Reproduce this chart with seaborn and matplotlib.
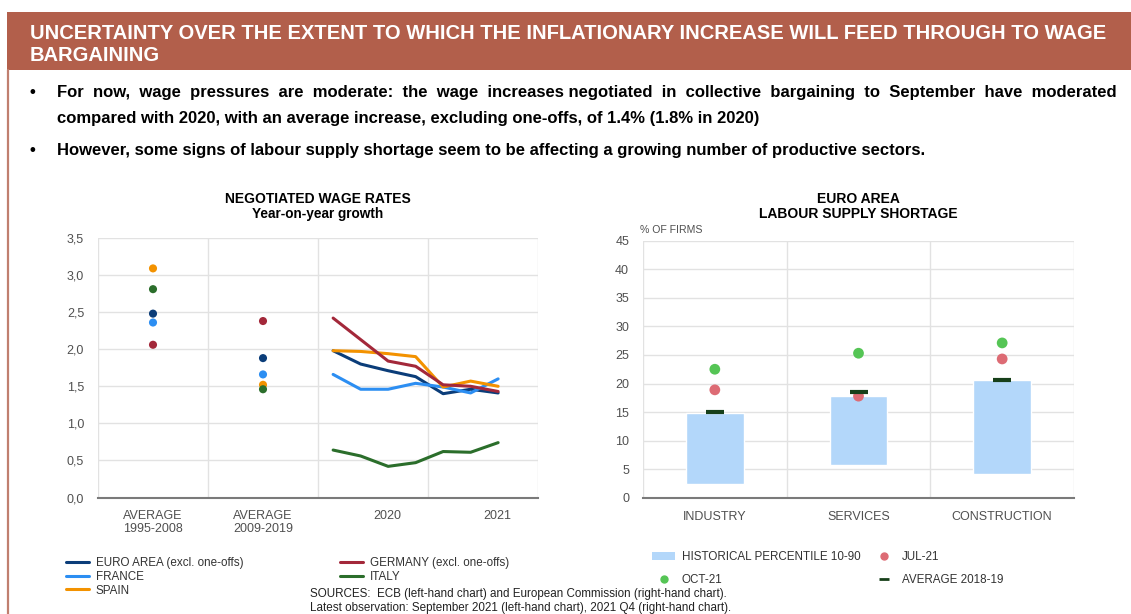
import numpy as np
import pandas as pd
import matplotlib
matplotlib.use("Agg")
import matplotlib.pyplot as plt
import seaborn as sns
from matplotlib.lines import Line2D
from matplotlib.patches import Patch, Rectangle

# ---------------- data ----------------
series = ["EURO AREA (excl. one-offs)", "FRANCE", "SPAIN",
          "GERMANY (excl. one-offs)", "ITALY"]
series_colors = ["#0B3D79", "#2C8EF2", "#F39200", "#A3283A", "#2B6E2B"]

avg_labels = ["AVERAGE\n1995-2008", "AVERAGE\n2009-2019"]
avg_1995_2008 = [2.48, 2.36, 3.09, 2.06, 2.81]   # EA, FR, ES, DE, IT
avg_2009_2019 = [1.88, 1.66, 1.52, 2.38, 1.46]

years = [2020, 2020, 2020, 2020, 2021, 2021, 2021]
quarters = [1, 2, 3, 4, 1, 2, 3]
euro_area = [1.98, 1.80, 1.71, 1.63, 1.40, 1.46, 1.41]
france = [1.66, 1.46, 1.46, 1.54, 1.49, 1.41, 1.60]
spain = [1.98, 1.97, 1.94, 1.90, 1.49, 1.57, 1.50]
germany = [2.42, 2.13, 1.84, 1.77, 1.52, 1.50, 1.43]
italy = [0.64, 0.56, 0.42, 0.47, 0.62, 0.61, 0.74]

year_labels = ["2020", "2021"]
y_ticks_left = [0.0, 0.5, 1.0, 1.5, 2.0, 2.5, 3.0, 3.5]

sectors = ["INDUSTRY", "SERVICES", "CONSTRUCTION"]
pct_10 = [2.5, 5.7, 4.2]
pct_90 = [14.8, 17.9, 20.7]
avg_2018_19 = [15.0, 18.6, 20.6]
jul_21 = [18.9, 17.8, 24.3]
oct_21 = [22.5, 25.3, 27.1]
y_ticks_right = [0, 5, 10, 15, 20, 25, 30, 35, 40, 45]

# ---------------- setup ----------------
W, H = 1131, 614
sns.set_theme(style="white")
plt.rcParams["font.family"] = ["Liberation Sans", "DejaVu Sans"]

fig = plt.figure(figsize=(W / 100, H / 100), dpi=100)
fig.patch.set_facecolor("white")


def fx(px):
    return px / W


def fy(py):
    return 1 - py / H


# banner
fig.add_artist(Rectangle((fx(7), fy(70)), fx(W) - fx(7), fy(12) - fy(70),
                         transform=fig.transFigure, facecolor="#B25F4B",
                         edgecolor="none", zorder=0))
fig.add_artist(Line2D([fx(7.5), fx(7.5)], [fy(70), fy(614)], transform=fig.transFigure,
                      color="#C07F6F", lw=1.6))
tkw = dict(color="white", fontsize=14.5, fontweight="bold", va="baseline", ha="left")
fig.text(fx(30), fy(39), "UNCERTAINTY OVER THE EXTENT TO WHICH THE INFLATIONARY INCREASE WILL FEED THROUGH TO WAGE", **tkw)
fig.text(fx(30), fy(61), "BARGAINING", **tkw)

# bullets
bkw = dict(color="black", fontsize=12.0, fontweight="bold", va="baseline", ha="left")
fig.text(fx(29), fy(97), "•", **bkw)
fig.text(fx(29), fy(155), "•", **bkw)

# justified first line: distribute extra spaces within a single string
line1 = "For now, wage pressures are moderate: the wage increases negotiated in collective bargaining to September have moderated"
words = line1.split(" ")
probe = fig.text(0, 0, "", **bkw)
rend = fig.canvas.get_renderer()


def text_w(s):
    probe.set_text(s)
    return probe.get_window_extent(rend).width


base_w = text_w(line1)
sp_w = text_w("a a") - text_w("aa")
probe.remove()
n_gaps = len(words) - 1
extra = (1117 - 57 - base_w) / sp_w  # extra spaces in total
s = words[0]
prev = 0
for i in range(1, len(words)):
    cum = int(round(extra * i / n_gaps))
    s += " " * (1 + cum - prev) + words[i]
    prev = cum
fig.text(fx(57), fy(97), s, **bkw)
fig.text(fx(57), fy(123), "compared with 2020, with an average increase, excluding one-offs, of 1.4% (1.8% in 2020)", **bkw)
fig.text(fx(57), fy(155), "However, some signs of labour supply shortage seem to be affecting a growing number of productive sectors.", **bkw)

tick_color = "#505050"
grid_color = "#E2E2E2"

# ---------------- left chart ----------------
ax1 = fig.add_axes([fx(98), fy(497.5), fx(538) - fx(98), fy(238) - fy(497.5)])

line_rows = []
for name, vals in zip(series, [euro_area, france, spain, germany, italy]):
    for yr, q, v in zip(years, quarters, vals):
        line_rows.append(dict(series=name, x=(yr - 2018) + (q - 0.45) / 4, value=v))
df_lines = pd.DataFrame(line_rows)

dot_rows = []
for i, vals in enumerate([avg_1995_2008, avg_2009_2019]):
    for name, v in zip(series, vals):
        dot_rows.append(dict(series=name, x=i + 0.5, value=v))
df_dots = pd.DataFrame(dot_rows)

palette = dict(zip(series, series_colors))
sns.lineplot(data=df_lines, x="x", y="value", hue="series", palette=palette,
             linewidth=2.2, legend=False, ax=ax1, zorder=3)
sns.scatterplot(data=df_dots, x="x", y="value", hue="series", palette=palette,
                s=34, edgecolor="none", legend=False, ax=ax1, zorder=4)

ax1.set_xlim(0, 4)
ax1.set_ylim(0, 3.5)
ax1.set_yticks(y_ticks_left)
ax1.set_yticklabels([f"{v:.1f}".replace(".", ",") for v in y_ticks_left])
ax1.set_xticks([0.5, 1.5, 2.63, 3.63])
ax1.set_xticklabels(avg_labels + year_labels)
ax1.grid(False)
for v in y_ticks_left[1:]:
    ax1.axhline(v, color=grid_color, lw=1.0, zorder=0)
for v in [0, 1, 2, 3, 4]:
    ax1.axvline(v, color=grid_color, lw=1.0, zorder=0)
for sp in ["top", "right", "left"]:
    ax1.spines[sp].set_visible(False)
ax1.spines["bottom"].set_color("#7A7A7A")
ax1.spines["bottom"].set_linewidth(1.5)
ax1.tick_params(axis="both", which="both", length=0, labelsize=9, colors=tick_color)
ax1.tick_params(axis="y", pad=10)
ax1.tick_params(axis="x", pad=9)
for lab in ax1.get_xticklabels():
    lab.set_linespacing(1.1)
ax1.set_xlabel("")
ax1.set_ylabel("")
fig.text(fx(318), fy(199), "NEGOTIATED WAGE RATES", ha="center", va="center",
         fontsize=10, fontweight="bold", color="black")
fig.text(fx(318), fy(214), "Year-on-year growth", ha="center", va="center",
         fontsize=9.8, fontweight="bold", color="black")

# ---------------- right chart ----------------
ax2 = fig.add_axes([fx(643), fy(498), fx(1074) - fx(643), fy(240.5) - fy(498)])
xpos = np.arange(len(sectors))
ax2.bar(xpos, np.array(pct_90) - np.array(pct_10), bottom=pct_10, width=0.4,
        color="#B3D7FA", zorder=2)
df_right = pd.DataFrame(dict(sector=sectors, x=xpos, jul=jul_21, oct=oct_21, avg=avg_2018_19))
sns.scatterplot(data=df_right, x="x", y="jul", color="#DD6B74", s=60, edgecolor="none",
                ax=ax2, zorder=3, legend=False)
sns.scatterplot(data=df_right, x="x", y="oct", color="#55C555", s=60, edgecolor="none",
                ax=ax2, zorder=3, legend=False)
ax2.scatter(df_right["x"], df_right["avg"], marker="_", s=170, linewidths=3,
            color="#17401A", zorder=4)
ax2.set_xlim(-0.5, 2.5)
ax2.set_ylim(0, 45)
ax2.set_yticks(y_ticks_right)
ax2.set_xticks(xpos)
ax2.set_xticklabels(sectors)
ax2.grid(False)
for v in y_ticks_right[1:]:
    ax2.axhline(v, color=grid_color, lw=1.0, zorder=0)
for v in [-0.5, 0.5, 1.5, 2.5]:
    ax2.axvline(v, color=grid_color, lw=1.0, zorder=0)
for sp in ["top", "right", "left"]:
    ax2.spines[sp].set_visible(False)
ax2.spines["bottom"].set_color("#7A7A7A")
ax2.spines["bottom"].set_linewidth(1.5)
ax2.tick_params(axis="both", which="both", length=0, labelsize=9, colors=tick_color)
ax2.tick_params(axis="y", pad=10)
ax2.tick_params(axis="x", pad=9)
ax2.set_xlabel("")
ax2.set_ylabel("")
fig.text(fx(640), fy(230), "% OF FIRMS", ha="left", va="center", fontsize=7.6, color=tick_color)
fig.text(fx(858), fy(199), "EURO AREA", ha="center", va="center",
         fontsize=10, fontweight="bold", color="black")
fig.text(fx(858), fy(214), "LABOUR SUPPLY SHORTAGE", ha="center", va="center",
         fontsize=10, fontweight="bold", color="black")

# ---------------- legends ----------------
lkw = dict(frameon=False, fontsize=8.4, borderpad=0, borderaxespad=0,
           handlelength=2.0, handletextpad=0.55, labelspacing=0.15,
           labelcolor="#333333", loc="upper left")
h_left1 = [Line2D([], [], color=c, lw=2.2) for c in series_colors[:3]]
h_left2 = [Line2D([], [], color=c, lw=2.2) for c in series_colors[3:]]
fig.legend(h_left1, series[:3], bbox_to_anchor=(fx(66), fy(557)), **lkw)
fig.legend(h_left2, series[3:], bbox_to_anchor=(fx(340), fy(557)), **lkw)

rkw = dict(lkw)
rkw["labelspacing"] = 0.95
h_r1 = [Patch(facecolor="#B3D7FA", edgecolor="none"),
        Line2D([], [], marker="o", color="#55C555", ls="none", markersize=5)]
h_r2 = [Line2D([], [], marker="o", color="#DD6B74", ls="none", markersize=5),
        Line2D([], [], marker="_", color="#17401A", ls="none", markersize=7, markeredgewidth=2)]
fig.legend(h_r1, ["HISTORICAL PERCENTILE 10-90", "OCT-21"],
           bbox_to_anchor=(fx(652), fy(551)), **rkw)
fig.legend(h_r2, ["JUL-21", "AVERAGE 2018-19"],
           bbox_to_anchor=(fx(872), fy(551)), **rkw)

skw = dict(ha="left", va="center", fontsize=8.4, color="#222222")
fig.text(fx(310), fy(594), "SOURCES:  ECB (left-hand chart) and European Commission (right-hand chart).", **skw)
fig.text(fx(310), fy(608), "Latest observation: September 2021 (left-hand chart), 2021 Q4 (right-hand chart).", **skw)

fig.savefig("out.png", dpi=100)
